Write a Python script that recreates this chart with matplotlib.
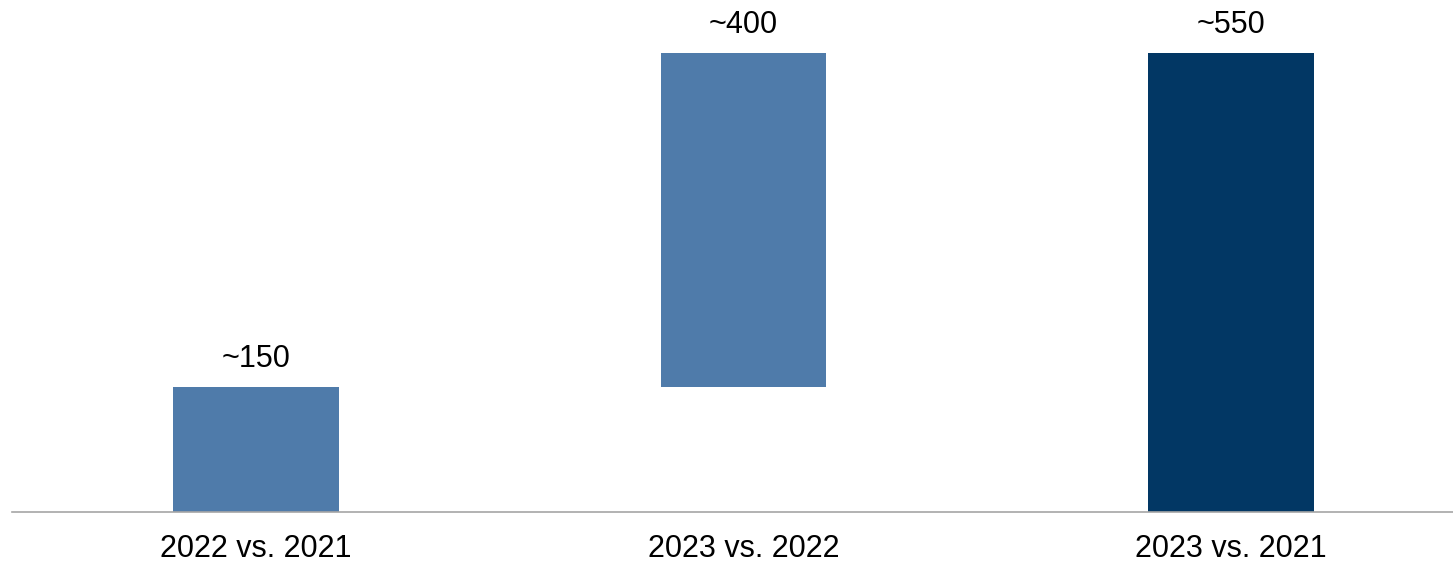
import matplotlib
matplotlib.use("Agg")
import matplotlib.pyplot as plt

# waterfall-style change chart
categories = ["2022 vs. 2021", "2023 vs. 2022", "2023 vs. 2021"]
bases = [0, 150, 0]
heights = [150, 400, 550]
value_labels = ["~150", "~400", "~550"]
bar_colors = ["#4F7BAA", "#4F7BAA", "#023764"]

plt.rcParams["font.family"] = ["Liberation Sans", "DejaVu Sans"]

fig = plt.figure(figsize=(14.53, 5.65), dpi=100)
ax = fig.add_axes([12 / 1453, 53 / 565, 1441 / 1453, 512 / 565])

x = list(range(len(categories)))
ax.bar(x, heights, bottom=bases, width=0.34, color=bar_colors, zorder=2)

for xi, base, h, label in zip(x, bases, heights, value_labels):
    ax.annotate(label, (xi, base + h), xytext=(0, 20), textcoords="offset points",
                ha="center", va="center", fontsize=22, color="black")

ax.set_xlim(-0.5, 2.455)
ax.set_ylim(0, 613.5)
ax.set_xticks(x)
ax.set_xticklabels(categories, fontsize=22)
ax.tick_params(axis="x", length=0, pad=16)
ax.set_yticks([])
for side in ["top", "right", "left"]:
    ax.spines[side].set_visible(False)
ax.spines["bottom"].set_color("#A6A6A6")
ax.spines["bottom"].set_linewidth(1.2)

fig.savefig("out.png", dpi=100)
plt.close(fig)
